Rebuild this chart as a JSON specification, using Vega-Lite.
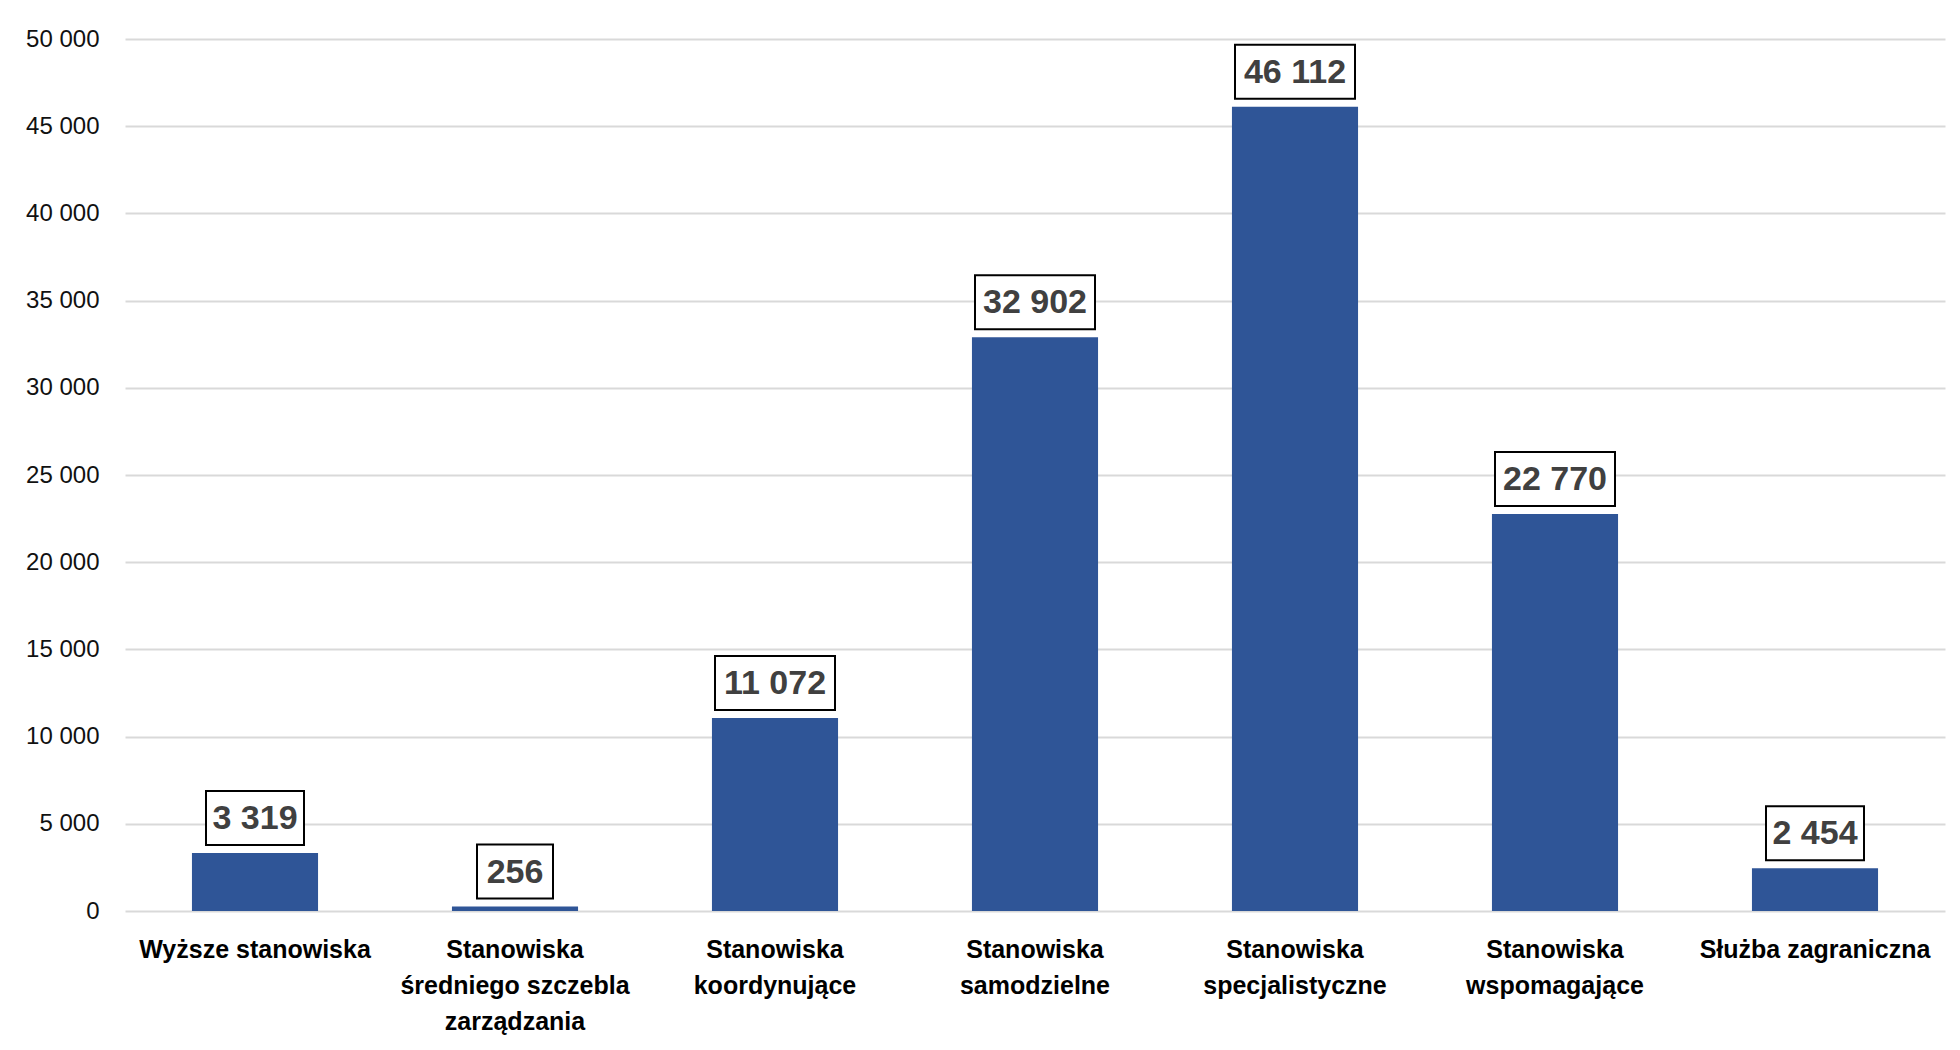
{
  "$schema": "https://vega.github.io/schema/vega-lite/v6.json",
  "autosize": {"type": "none"},
  "padding": {"left": 125, "top": 39, "right": 15, "bottom": 139},
  "width": 1820,
  "height": 872,
  "config": {
    "view": {"stroke": null},
    "font": "Liberation Sans",
    "locale": {
      "number": {"decimal": ",", "thousands": " ", "grouping": [3], "currency": ["", " zł"]}
    }
  },
  "data": {
    "values": [
      {"kategoria": "Wyższe stanowiska", "liczba": 3319},
      {"kategoria": "Stanowiska\nśredniego szczebla\nzarządzania", "liczba": 256},
      {"kategoria": "Stanowiska\nkoordynujące", "liczba": 11072},
      {"kategoria": "Stanowiska\nsamodzielne", "liczba": 32902},
      {"kategoria": "Stanowiska\nspecjalistyczne", "liczba": 46112},
      {"kategoria": "Stanowiska\nwspomagające", "liczba": 22770},
      {"kategoria": "Służba zagraniczna", "liczba": 2454}
    ]
  },
  "encoding": {
    "x": {
      "field": "kategoria",
      "type": "nominal",
      "sort": null,
      "scale": {"paddingInner": 0.515, "paddingOuter": 0.2575},
      "axis": {
        "title": null,
        "labelAngle": 0,
        "domain": false,
        "ticks": false,
        "labelPadding": 26,
        "labelFontSize": 25,
        "labelFontWeight": "bold",
        "labelColor": "#000000",
        "labelLineHeight": 36,
        "labelBaseline": "top",
        "labelLimit": 400,
        "labelExpr": "split(datum.label, '\\n')"
      }
    }
  },
  "layer": [
    {
      "mark": {"type": "bar", "color": "#2F5597"},
      "encoding": {
        "y": {
          "field": "liczba",
          "type": "quantitative",
          "scale": {"domain": [0, 50000]},
          "axis": {
            "title": null,
            "domain": false,
            "ticks": false,
            "values": [0, 5000, 10000, 15000, 20000, 25000, 30000, 35000, 40000, 45000, 50000],
            "format": ",d",
            "labelFontSize": 24,
            "labelColor": "#111111",
            "labelPadding": 26,
            "gridColor": "#d9d9d9",
            "gridWidth": 2
          }
        }
      }
    },
    {
      "transform": [
        {"calculate": "22 * length(toString(datum.liczba)) + 10", "as": "szerokosc"}
      ],
      "mark": {
        "type": "bar",
        "fill": "#ffffff",
        "stroke": "#000000",
        "strokeWidth": 2,
        "yOffset": -8,
        "y2Offset": -62
      },
      "encoding": {
        "y": {"field": "liczba", "type": "quantitative"},
        "y2": {"field": "liczba"},
        "size": {"field": "szerokosc", "type": "quantitative", "scale": null, "legend": null}
      }
    },
    {
      "mark": {
        "type": "text",
        "fontSize": 34,
        "fontWeight": "bold",
        "color": "#404040",
        "baseline": "middle",
        "dy": -34
      },
      "encoding": {
        "y": {"field": "liczba", "type": "quantitative"},
        "text": {"field": "liczba", "type": "quantitative", "format": ",d"}
      }
    }
  ]
}
